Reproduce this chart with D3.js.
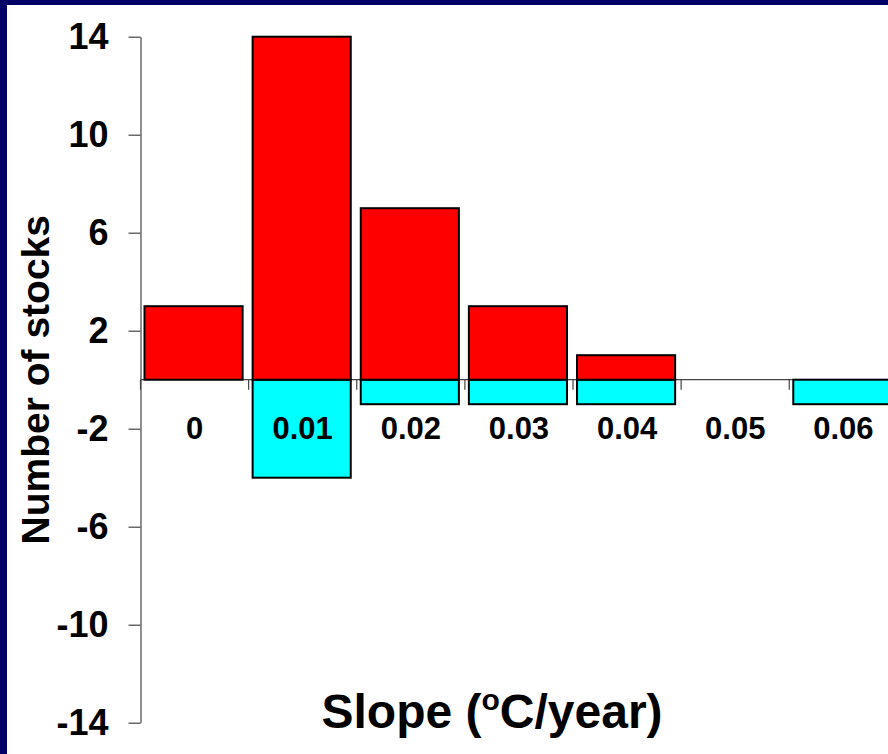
<!DOCTYPE html>
<html>
<head>
<meta charset="utf-8">
<script src="https://cdn.jsdelivr.net/npm/d3@7"></script>
<style>
  html, body { margin: 0; padding: 0; background: #000066; }
  svg { display: block; }
  text { font-family: Arial, "Liberation Sans", Helvetica, sans-serif; font-weight: bold; fill: #000; }
</style>
</head>
<body>
<svg id="chart" width="888" height="754"></svg>
<script>
// Slope classes (°C/year)
const categories = ["0", "0.01", "0.02", "0.03", "0.04", "0.05", "0.06"];
// Stocks with a positive trend (drawn above zero)
const warmingCounts = [3, 14, 7, 3, 1, 0, 0];
// Stocks with a negative trend (drawn below zero)
const coolingCounts = [0, -4, -1, -1, -1, 0, -1];
// Y axis ticks
const yTicks = [-14, -10, -6, -2, 2, 6, 10, 14];

const W = 888, H = 754;
const svg = d3.select("#chart");

// navy frame with white panel
svg.append("rect").attr("width", W).attr("height", H).attr("fill", "#000066");
svg.append("rect").attr("x", 7).attr("y", 5).attr("width", W - 7).attr("height", H - 5).attr("fill", "#fff");

const axisX = 140.5;
const y = d3.scaleLinear().domain([-14, 14]).range([722.7, 36.7]);
const x = d3.scaleBand().domain(categories).range([axisX, 897.4]).padding(0);

const red = "#FF0000", cyan = "#00FFFF";

// zero line with class-boundary ticks
const zeroG = svg.append("g").attr("transform", `translate(0,${y(0)})`);
zeroG.append("line")
  .attr("x1", axisX).attr("x2", W)
  .attr("y1", 0).attr("y2", 0)
  .attr("stroke", "#444").attr("stroke-width", 1.2);
zeroG.selectAll("line.bt").data(categories).join("line")
  .attr("class", "bt")
  .attr("x1", d => x(d)).attr("x2", d => x(d))
  .attr("y1", 0).attr("y2", 10)
  .attr("stroke", "#444").attr("stroke-width", 1.2);

// y axis
const yAxis = d3.axisLeft(y).tickValues(yTicks).tickSize(12).tickSizeOuter(0).tickPadding(20)
  .tickFormat(d3.format("d"));
const yg = svg.append("g").attr("transform", `translate(${axisX},0)`).call(yAxis);
yg.select(".domain").attr("stroke", "#444").attr("stroke-width", 1.2);
yg.selectAll(".tick line").attr("stroke", "#444").attr("stroke-width", 1.2);
yg.selectAll("text")
  .attr("font-size", 36)
  .attr("font-family", "Arial, 'Liberation Sans', sans-serif")
  .attr("font-weight", "bold")
  .attr("fill", "#000")
  .text(d => d < 0 ? "-" + Math.abs(d) : d);

// bars
const inset = 4, barW = x.bandwidth() - 10;
const rows = categories.map((c, i) => ({ c, up: warmingCounts[i], down: coolingCounts[i] }));

svg.append("g").selectAll("rect").data(rows.filter(r => r.down !== 0)).join("rect")
  .attr("x", r => x(r.c) + inset)
  .attr("y", y(0))
  .attr("width", barW)
  .attr("height", r => y(r.down) - y(0))
  .attr("fill", cyan).attr("stroke", "#000").attr("stroke-width", 2);

svg.append("g").selectAll("rect").data(rows.filter(r => r.up !== 0)).join("rect")
  .attr("x", r => x(r.c) + inset)
  .attr("y", r => y(r.up))
  .attr("width", barW)
  .attr("height", r => y(0) - y(r.up))
  .attr("fill", red).attr("stroke", "#000").attr("stroke-width", 2);

// category labels via a bottom axis on the zero line, drawn over the bars
const xAxis = d3.axisBottom(x).tickSize(0).tickPadding(37);
const xg = svg.append("g").attr("transform", `translate(0,${y(0)})`).call(xAxis);
xg.select(".domain").remove();
xg.selectAll("text")
  .attr("font-size", 31)
  .attr("font-family", "Arial, 'Liberation Sans', sans-serif")
  .attr("font-weight", "bold")
  .attr("fill", "#000");

// axis titles
svg.append("text")
  .attr("transform", `translate(49,${(y(14) + y(-14)) / 2}) rotate(-90)`)
  .attr("text-anchor", "middle")
  .attr("font-size", 39)
  .text("Number of stocks");

const xt = svg.append("text")
  .attr("x", 492).attr("y", 728)
  .attr("text-anchor", "middle")
  .attr("font-size", 48);
xt.append("tspan").text("Slope (");
xt.append("tspan").attr("font-size", 30).attr("dy", -18).text("o");
xt.append("tspan").attr("dy", 18).text("C/year)");
</script>
</body>
</html>
